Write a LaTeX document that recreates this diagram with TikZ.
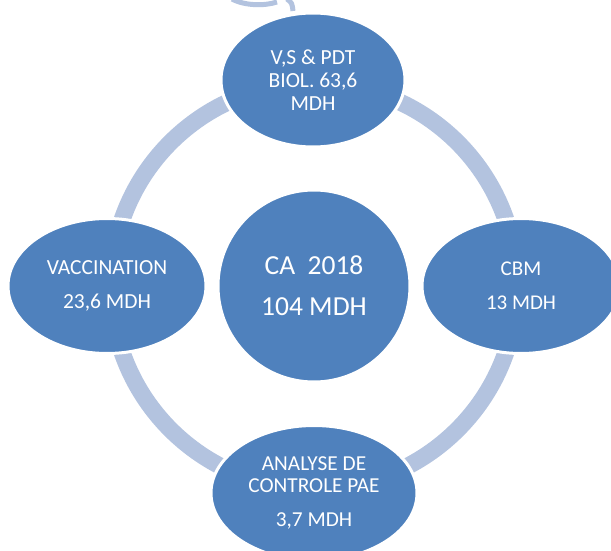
\documentclass[tikz,border=0pt]{standalone}
\usepackage{fontspec}
\setmainfont{Carlito}
\usepackage{tikz}
\usetikzlibrary{%
shapes.geometric,%
calc}
\definecolor{bulle}{RGB}{79,129,189}
\definecolor{anneau}{RGB}{179,195,223}
\tikzset{
    poste/.style={ellipse,fill=bulle,draw=white,line width=3pt,text=white,
        align=center,inner sep=0pt},
    anneau/.style={draw=anneau,line width=17pt}
}

\begin{document}
\begin{tikzpicture}[x=1pt,y=-1pt]
\useasboundingbox (0,0) rectangle (611,551);
% morceaux d'une forme cachee en haut
\draw[anneau,line width=5pt] (232,-1) .. controls (245,6) and (265,6) .. (277,2);
\draw[anneau,line width=5pt] (287,-1) .. controls (292,3) .. (293,11);
% cercle central
\node[poste,circle,minimum size=192pt,font=\fontsize{27.5}{41}\selectfont] (ca) at (314,286) {CA~~2018\\104 MDH};
% anneau derriere les postes
\draw[anneau] (ca.center) circle (203);
\node[poste,minimum width=184pt,minimum height=134pt,font=\fontsize{21.5}{23}\selectfont] (vs) at (313,80) {V,S \& PDT\\BIOL. 63,6\\MDH};
\node[poste,minimum width=198pt,minimum height=135pt,font=\fontsize{21}{34}\selectfont] (cbm) at (521,286) {CBM\\13 MDH};
\node[poste,minimum width=206pt,minimum height=135pt,font=\fontsize{21.3}{22}\selectfont] (pae) at (314,493) {ANALYSE DE\\CONTROLE PAE\\[12pt]3,7 MDH};
\node[poste,minimum width=198pt,minimum height=135pt,font=\fontsize{21.5}{34}\selectfont] (vac) at (107,286) {VACCINATION\\23,6 MDH};
\end{tikzpicture}
\end{document}
